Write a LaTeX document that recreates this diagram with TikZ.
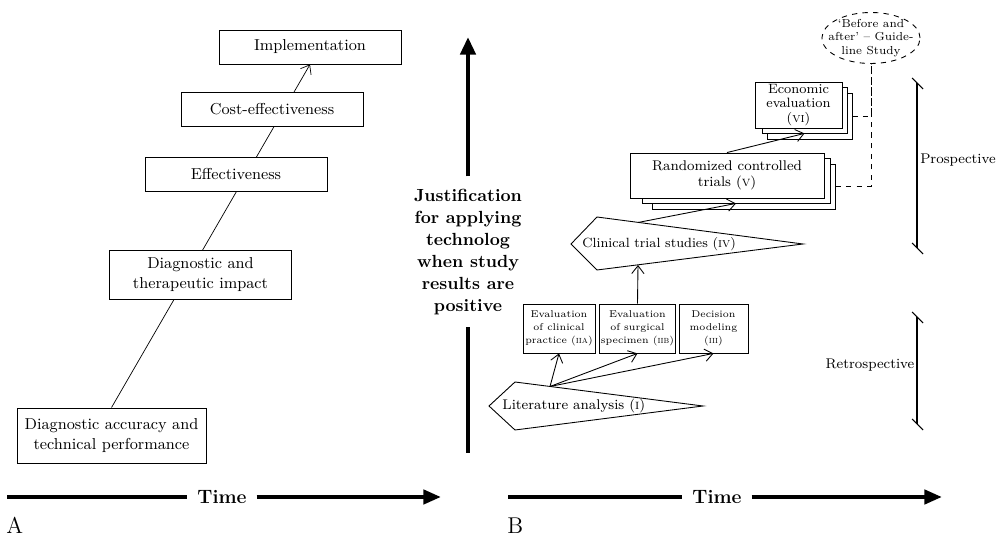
\documentclass[tikz,border=0pt]{standalone}
\usepackage{fontspec}
\usepackage{tikz}
\usetikzlibrary{arrows.meta,shapes,shapes.geometric}
\usetikzlibrary{positioning,backgrounds}

\begin{document}
\begin{tikzpicture}[x=0.02cm, y=-0.02cm, line width=0.5pt, >={Straight Barb[length=4.5pt,width=7pt]}]
    \tikzstyle{abox}=[draw, fill=white, align=center, font=\small, minimum width=3.64cm, minimum height=0.68cm, inner sep=2pt];
    \tikzstyle{bbox}=[draw, fill=white, align=center, font=\fontsize{8}{9}\selectfont, inner sep=1pt];
    \tikzstyle{sbox}=[draw, fill=white, align=center, font=\fontsize{5.6}{7.4}\selectfont, minimum width=1.38cm, minimum height=0.98cm, inner sep=0.8pt];
    \tikzstyle{timearrow}=[line width=2.3pt];
    \tikzstyle{bigarrow}=[line width=2.6pt];
    \tikzstyle{bracket}=[line width=0.6pt];
    \tikzstyle{link}=[dashed, line width=0.5pt];
    \useasboundingbox (0,0) rectangle (998,536);

    \node[abox] (impl) at (310,47) {Implementation};
    \node[abox] (cost) at (272,109) {Cost-effectiveness};
    \node[abox] (eff) at (236,174) {Effectiveness};
    \node[abox, minimum height=0.98cm] (impact) at (200.5,274.5) {Diagnostic and\\therapeutic impact};
    \node[abox, minimum width=3.78cm, minimum height=1.1cm] (acc) at (111.5,435.5) {Diagnostic accuracy and\\technical performance};
    \begin{scope}[on background layer]
    \path[draw] [->] (acc.north) -- (impl.south);
    \end{scope}

    \node[font=\bfseries\fontsize{10}{12.5}\selectfont, align=center, inner sep=7pt] (just) at (468,252) {Justification\\for applying\\technolog\\when study\\results are\\positive};
    \coordinate (justtop) at (468,37);
    \coordinate (justbot) at (468,453);
    \path[draw] [bigarrow, -{Triangle[length=10pt,width=8.5pt]}] (just) -- (justtop);
    \path[draw] [bigarrow] (justbot) -- (just);

    \node[font=\bfseries\fontsize{11}{13}\selectfont, inner xsep=5.5pt] (timea) at (222,497) {Time};
    \coordinate (timea0) at (7,497);
    \coordinate (timea1) at (441,497);
    \path[draw] [timearrow] (timea0) -- (timea);
    \path[draw] [timearrow, -{Triangle[length=10pt,width=8pt]}] (timea) -- (timea1);
    \node[font=\fontsize{13}{15}\selectfont, anchor=base west, inner sep=0pt] (laba) at (6,534) {A};

    \node[font=\bfseries\fontsize{11}{13}\selectfont, inner xsep=5.5pt] (timeb) at (717,497) {Time};
    \coordinate (timeb0) at (508,497);
    \coordinate (timeb1) at (942,497);
    \path[draw] [timearrow] (timeb0) -- (timeb);
    \path[draw] [timearrow, -{Triangle[length=10pt,width=8pt]}] (timeb) -- (timeb1);
    \node[font=\fontsize{13}{15}\selectfont, anchor=base west, inner sep=0pt] (labb) at (507,534) {B};

    \coordinate (litl) at (489,406);
    \coordinate (litt) at (515,382);
    \coordinate (litr) at (703,406);
    \coordinate (litb) at (515,430);
    \path[draw] (litl) -- (litt) -- (litr) -- (litb) -- cycle;
    \node[font=\fontsize{8}{9}\selectfont, anchor=west, inner sep=0pt] (lit) at (502,406) {Literature analysis (\textsc{i})};
    \coordinate (litout) at (550,386.5);

    \coordinate (clinl) at (571,244);
    \coordinate (clint) at (597,217);
    \coordinate (clinr) at (803,244);
    \coordinate (clinb) at (597,270);
    \path[draw] (clinl) -- (clint) -- (clinr) -- (clinb) -- cycle;
    \node[font=\fontsize{7.6}{9}\selectfont, anchor=west, inner sep=0pt] (clin) at (582,244) {Clinical trial studies (\textsc{iv})};
    \coordinate (clinin) at (638,265);
    \coordinate (clinout) at (638,222.5);

    \node[sbox, minimum width=1.44cm] (iia) at (559,328.5) {Evaluation\\of clinical\\practice (\textsc{iia})};
    \node[sbox] (iib) at (637.5,328.5) {Evaluation\\of surgical\\specimen (\textsc{iib})};
    \node[sbox] (iii) at (713.5,328.5) {Decision\\modeling\\(\textsc{iii})};

    \node[bbox, minimum width=3.66cm, minimum height=0.9cm] (rct3) at (743.5,186.5) {};
    \node[bbox, minimum width=3.76cm, minimum height=0.9cm] (rct2) at (736,180.5) {};
    \node[bbox, minimum width=3.88cm, minimum height=0.9cm] (rct) at (727,175.5) {Randomized controlled\\trials (\textsc{v})};

    \node[bbox, minimum width=1.7cm, minimum height=0.92cm] (econ3) at (809.5,116) {};
    \node[bbox, minimum width=1.7cm, minimum height=0.92cm] (econ2) at (804.5,110) {};
    \node[bbox, minimum width=1.74cm, minimum height=0.92cm, font=\fontsize{7.7}{8.3}\selectfont, inner sep=0.5pt] (econ) at (798.5,105) {Economic\\evaluation\\(\textsc{vi})};

    \node[ellipse, draw, dashed, fill=white, align=center, font=\fontsize{6.6}{7.8}\selectfont, inner sep=-4.5pt, minimum height=1.02cm] (bef) at (871,38) {`Before and\\after' -- Guide-\\line Study};

    \path[draw] [->] (litout) -- (iia.south);
    \path[draw] [->] (litout) -- (iib.south);
    \path[draw] [->] (litout) -- (iii.south);
    \path[draw] [->] (iib.north) -- (clinin);
    \path[draw] [->] (clinout) -- (rct2.south);
    \path[draw] [->] (rct.north) -- (econ2.south);
    \path[draw] [link] (rct3.east) -| (bef.south);
    \path[draw] [link] (econ3.east) -| (bef.south);

    \coordinate (protop) at (917,83);
    \coordinate (probot) at (917,248);
    \path[draw] [bracket] (protop) -- (probot);
    \path[draw] [bracket] ([shift={(-5,-5)}]protop) -- ([shift={(6,6)}]protop);
    \path[draw] [bracket] ([shift={(-5,-5)}]probot) -- ([shift={(6,6)}]probot);
    \node[font=\fontsize{8}{9}\selectfont] (pro) at (958,160) {Prospective};

    \coordinate (rettop) at (917,317);
    \coordinate (retbot) at (917,424);
    \path[draw] [bracket] (rettop) -- (retbot);
    \path[draw] [bracket] ([shift={(-5,-5)}]rettop) -- ([shift={(6,6)}]rettop);
    \path[draw] [bracket] ([shift={(-5,-5)}]retbot) -- ([shift={(6,6)}]retbot);
    \node[font=\fontsize{8}{9}\selectfont] (ret) at (870,365) {Retrospective};
\end{tikzpicture}
\end{document}
